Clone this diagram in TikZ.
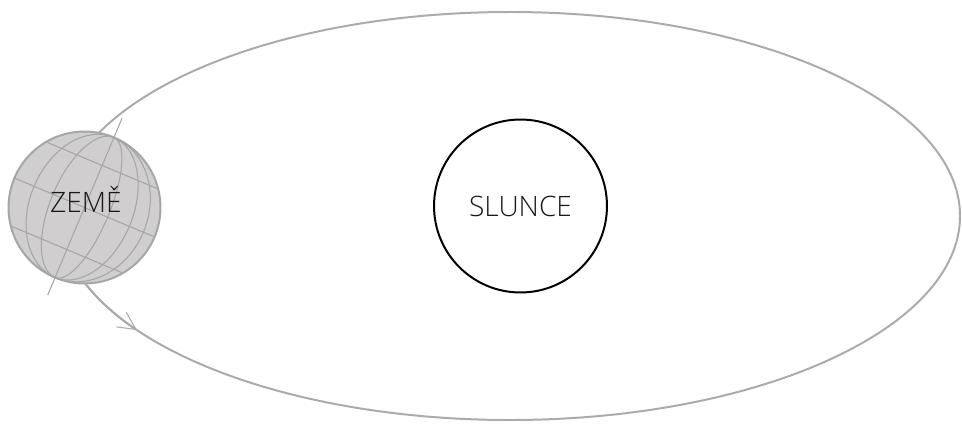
\documentclass[tikz,border=0pt]{standalone}
\usepackage{fontspec}
\IfFontExistsTF{Open Sans Light}{\setmainfont{Open Sans Light}}{\setmainfont{Open Sans}}
\usetikzlibrary{arrows.meta}
\definecolor{orbitgray}{RGB}{171,171,171}
\definecolor{earthfill}{RGB}{208,206,207}
\definecolor{earthline}{RGB}{166,166,166}
\tikzset{
    orbit/.style={draw=orbitgray, line width=1.13pt},
    globe/.style={circle, draw=earthline, fill=earthfill, line width=1.13pt,
        minimum size=3.04cm, inner sep=0pt},
    grid line/.style={draw=earthline, line width=0.6pt},
    sun/.style={circle, draw=black, line width=1.13pt, minimum size=3.46cm, inner sep=0pt},
    caption/.style={font=\fontsize{16}{19}\selectfont, text=black!90}
}

\begin{document}
\begin{tikzpicture}[x=0.02cm, y=0.02cm]
            \useasboundingbox (0,0) rectangle (962,423);

            \draw[orbit] (510,207) ellipse [x radius=450, y radius=204];
            \draw[orbit, -{Straight Barb[length=10pt, width=10pt, line width=0.6pt]}]
                (510,207) ++(200:450 and 204)
                arc[start angle=200, end angle=214, x radius=450, y radius=204];

            \node[globe] (zeme) at (84.5,215.5) {};
            \begin{scope}[shift={(zeme.center)}, rotate=-22.8]
                \foreach \a in {0.33,0.64,0.84}
                    \draw[grid line] (0,76) arc[start angle=90, end angle=-90,
                        x radius=\a*76, y radius=76];
                \foreach \a in {0.45,0.72}
                    \draw[grid line] (0,76) arc[start angle=90, end angle=270,
                        x radius=\a*76, y radius=76];
                \foreach \h in {-0.6,0,0.6}
                    \draw[grid line] ({-76*sqrt(1-(\h)*(\h))},{76*\h})
                        -- ({76*sqrt(1-(\h)*(\h))},{76*\h});
                \draw[grid line] (0,-95) -- (0,97);
            \end{scope}
            \node[caption, anchor=base] (zemetext) at (85.8,210.7) {ZEMĚ};

            \node[sun, caption] (slunce) at (520.5,217) {SLUNCE};
\end{tikzpicture}
\end{document}
